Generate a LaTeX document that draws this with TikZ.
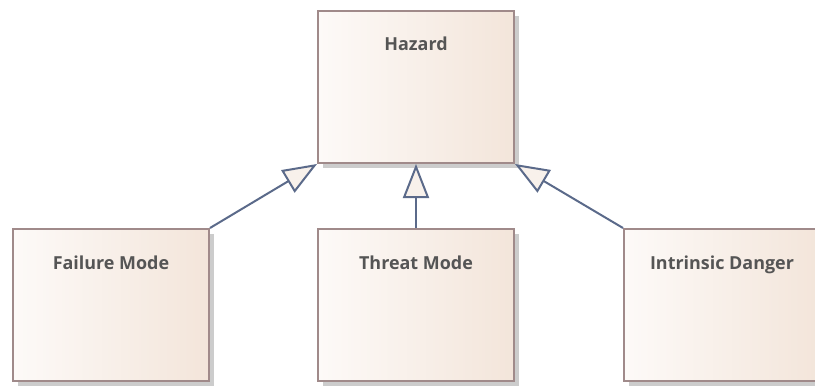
\documentclass[tikz,border=0pt]{standalone}
\usepackage{fontspec}
\setmainfont{Open Sans}
\usetikzlibrary{arrows.meta,shadows}
\definecolor{boxleft}{HTML}{FDFAF8}
\definecolor{boxright}{HTML}{F3E5DA}
\definecolor{boxline}{HTML}{A08A8A}
\definecolor{linkline}{HTML}{5B6A8A}
\definecolor{boxtext}{HTML}{555555}
\begin{document}
\begin{tikzpicture}[x=1bp, y=1bp,
          font=\bfseries\fontsize{18}{21}\selectfont,
          cls/.style={draw=boxline, line width=2bp, shading=axis,
            left color=boxleft, right color=boxright,
            minimum width=196bp, minimum height=152bp, inner sep=0pt,
            anchor=north west,
            drop shadow={shadow xshift=5bp, shadow yshift=-5bp, fill=black!20, opacity=1}},
          clsname/.style={text=boxtext, inner sep=0pt, anchor=base},
          gen/.style={draw=linkline, line width=2bp,
            -{Triangle[length=34bp, width=26bp, fill=boxright!55, line width=2bp]}}]
        \useasboundingbox (0,0) rectangle (815,385);
        % class boxes, positioned by their top left corners
        \node[cls] (hazard) at (317,375) {};
        \node[cls] (failure) at (12,157) {};
        \node[cls] (threat) at (317,157) {};
        \node[cls] (danger) at (623,157) {};
        % names sit on a common baseline below the top edge
        \node[clsname] (hazardname) at ([yshift=-40bp]hazard.north) {Hazard};
        \node[clsname] (failurename) at ([yshift=-41bp]failure.north) {Failure Mode};
        \node[clsname] (threatname) at ([yshift=-41bp]threat.north) {Threat Mode};
        \node[clsname] (dangername) at ([yshift=-41bp]danger.north) {Intrinsic Danger};
        % generalisations
        \draw[gen] (failure.north east) -- (hazard.south west);
        \draw[gen] (threat.north) -- (hazard.south);
        \draw[gen] (danger.north west) -- (hazard.south east);
      \end{tikzpicture}
\end{document}
